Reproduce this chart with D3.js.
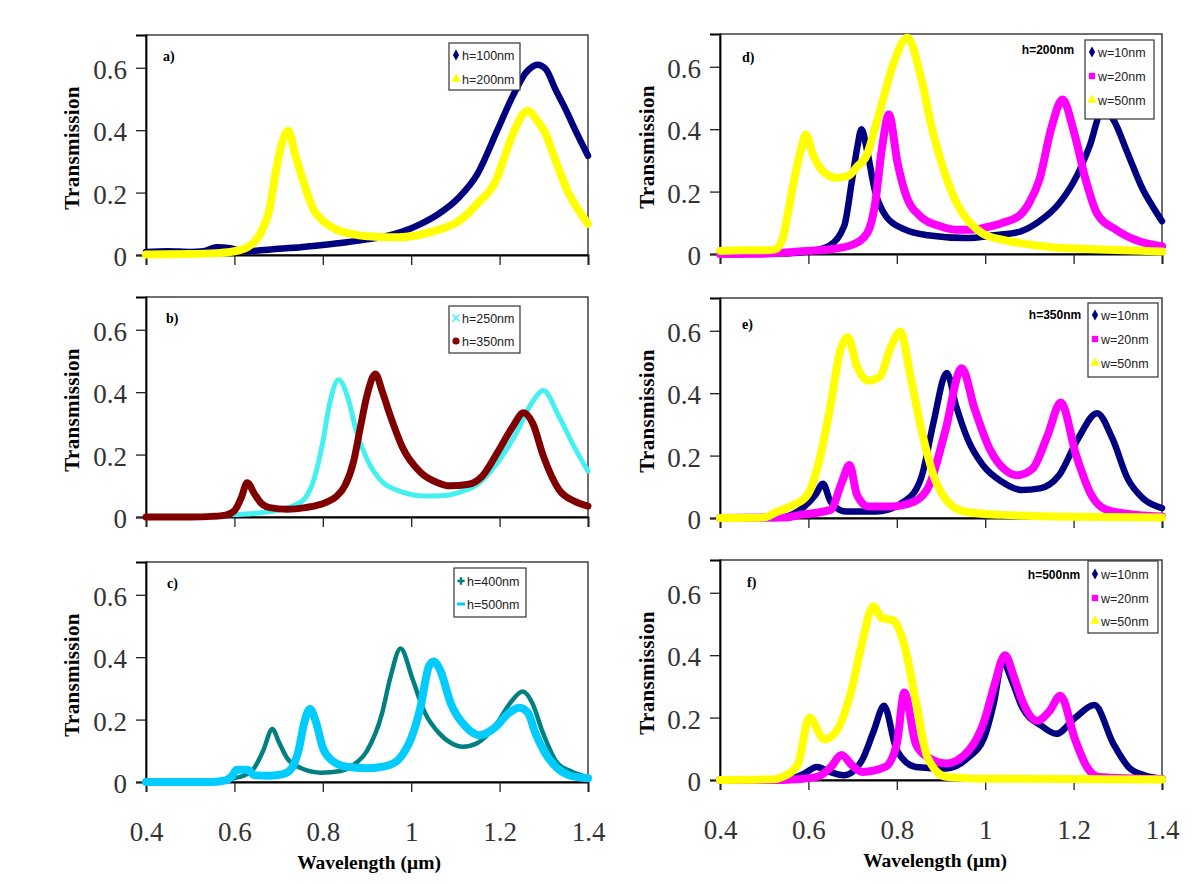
<!DOCTYPE html>
<html><head><meta charset="utf-8">
<script src="https://cdn.jsdelivr.net/npm/d3@7"></script>
<style>body{margin:0;background:#fff}</style>
</head><body>
<svg id="chart" width="1200" height="884"></svg>
<script>
// ---------------- DATA ----------------
const X_TICKS = [0.4, 0.6, 0.8, 1.0, 1.2, 1.4];
const X_TICK_LABELS = ["0.4", "0.6", "0.8", "1", "1.2", "1.4"];
const Y_TICKS = [0, 0.2, 0.4, 0.6];
const Y_TICK_LABELS = ["0", "0.2", "0.4", "0.6"];
const PANEL_LABELS = ["a)", "b)", "c)", "d)", "e)", "f)"];
const PANEL_HEADERS = [null, null, null, "h=200nm", "h=350nm", "h=500nm"];
const SERIES_NAMES = [
  ["h=100nm", "h=200nm"],
  ["h=250nm", "h=350nm"],
  ["h=400nm", "h=500nm"],
  ["w=10nm", "w=20nm", "w=50nm"],
  ["w=10nm", "w=20nm", "w=50nm"],
  ["w=10nm", "w=20nm", "w=50nm"]
];

// [wavelength (µm), transmission]
const aH100 = [[0.40,0.010],[0.45,0.012],[0.50,0.010],[0.53,0.012],[0.56,0.025],[0.59,0.022],[0.62,0.012],[0.66,0.015],[0.70,0.020],[0.75,0.025],[0.80,0.032],[0.85,0.040],[0.90,0.050],[0.936,0.058],[0.98,0.075],[1.022,0.100],[1.06,0.130],[1.109,0.186],[1.15,0.260],[1.195,0.400],[1.23,0.510],[1.26,0.585],[1.286,0.610],[1.305,0.595],[1.325,0.535],[1.35,0.465],[1.368,0.410],[1.40,0.318]];
const aH200 = [[0.40,0.002],[0.50,0.003],[0.56,0.006],[0.60,0.012],[0.63,0.025],[0.659,0.070],[0.68,0.150],[0.694,0.270],[0.708,0.360],[0.722,0.398],[0.738,0.320],[0.755,0.240],[0.78,0.143],[0.80,0.110],[0.83,0.082],[0.87,0.066],[0.927,0.058],[0.97,0.057],[1.02,0.065],[1.06,0.080],[1.109,0.110],[1.15,0.165],[1.195,0.250],[1.21,0.310],[1.23,0.387],[1.264,0.462],[1.285,0.430],[1.30,0.400],[1.325,0.310],[1.35,0.217],[1.385,0.130],[1.40,0.100]];

const bH250 = [[0.55,0.004],[0.60,0.008],[0.65,0.012],[0.70,0.022],[0.74,0.040],[0.76,0.060],[0.78,0.120],[0.80,0.240],[0.815,0.360],[0.836,0.440],[0.858,0.376],[0.875,0.280],[0.90,0.185],[0.935,0.112],[0.97,0.085],[1.00,0.072],[1.03,0.067],[1.07,0.068],[1.11,0.080],[1.15,0.105],[1.195,0.174],[1.238,0.270],[1.273,0.366],[1.299,0.405],[1.334,0.323],[1.368,0.227],[1.40,0.147]];
const bH350 = [[0.40,0.0],[0.50,0.0],[0.55,0.002],[0.58,0.006],[0.60,0.020],[0.615,0.060],[0.629,0.110],[0.645,0.075],[0.66,0.045],[0.68,0.030],[0.72,0.025],[0.76,0.030],[0.806,0.046],[0.83,0.065],[0.85,0.100],[0.87,0.180],[0.884,0.280],[0.90,0.390],[0.919,0.458],[0.935,0.400],[0.953,0.323],[0.979,0.227],[1.022,0.142],[1.06,0.110],[1.087,0.100],[1.13,0.105],[1.16,0.130],[1.195,0.206],[1.23,0.290],[1.254,0.334],[1.275,0.300],[1.299,0.195],[1.334,0.088],[1.37,0.050],[1.40,0.035]];

const cH400 = [[0.40,0.0],[0.50,0.0],[0.55,0.003],[0.58,0.008],[0.62,0.020],[0.645,0.045],[0.665,0.100],[0.686,0.170],[0.70,0.130],[0.72,0.075],[0.75,0.045],[0.797,0.030],[0.84,0.035],[0.87,0.055],[0.90,0.100],[0.934,0.220],[0.952,0.330],[0.976,0.428],[1.003,0.330],[1.029,0.228],[1.064,0.155],[1.09,0.125],[1.116,0.113],[1.15,0.125],[1.193,0.186],[1.225,0.255],[1.252,0.290],[1.275,0.250],[1.296,0.165],[1.331,0.060],[1.36,0.035],[1.40,0.015]];
const cH500 = [[0.40,0.0],[0.55,0.0],[0.58,0.005],[0.595,0.020],[0.605,0.039],[0.63,0.039],[0.645,0.022],[0.68,0.020],[0.71,0.025],[0.73,0.045],[0.745,0.100],[0.758,0.190],[0.771,0.234],[0.785,0.190],[0.80,0.110],[0.82,0.070],[0.85,0.050],[0.90,0.044],[0.94,0.050],[0.97,0.070],[0.986,0.100],[1.00,0.140],[1.021,0.240],[1.04,0.370],[1.051,0.386],[1.065,0.360],[1.09,0.250],[1.124,0.176],[1.154,0.150],[1.19,0.175],[1.22,0.220],[1.245,0.238],[1.265,0.220],[1.28,0.160],[1.30,0.100],[1.33,0.045],[1.36,0.020],[1.40,0.012]];

const dW10 = [[0.40,0.0],[0.55,0.002],[0.60,0.008],[0.646,0.025],[0.681,0.090],[0.698,0.230],[0.711,0.345],[0.72,0.400],[0.733,0.330],[0.75,0.206],[0.776,0.120],[0.819,0.078],[0.87,0.060],[0.958,0.051],[1.02,0.060],[1.079,0.072],[1.123,0.105],[1.166,0.160],[1.209,0.255],[1.236,0.345],[1.266,0.463],[1.29,0.430],[1.322,0.324],[1.357,0.206],[1.38,0.150],[1.40,0.105]];
const dW20 = [[0.40,0.0],[0.50,0.001],[0.55,0.005],[0.60,0.010],[0.65,0.015],[0.70,0.030],[0.733,0.067],[0.75,0.153],[0.767,0.345],[0.782,0.447],[0.802,0.290],[0.819,0.196],[0.854,0.120],[0.90,0.088],[0.932,0.078],[0.97,0.078],[1.00,0.085],[1.04,0.100],[1.079,0.125],[1.10,0.165],[1.123,0.240],[1.149,0.400],[1.175,0.495],[1.201,0.390],[1.227,0.240],[1.253,0.130],[1.296,0.078],[1.35,0.040],[1.40,0.025]];
const dW50 = [[0.40,0.010],[0.45,0.012],[0.50,0.012],[0.525,0.015],[0.542,0.050],[0.551,0.110],[0.568,0.240],[0.585,0.345],[0.594,0.383],[0.61,0.320],[0.63,0.270],[0.663,0.244],[0.69,0.250],[0.71,0.280],[0.733,0.320],[0.75,0.400],[0.767,0.485],[0.793,0.613],[0.824,0.693],[0.854,0.570],[0.88,0.400],[0.906,0.270],[0.93,0.180],[0.949,0.130],[0.993,0.067],[1.04,0.045],[1.079,0.035],[1.15,0.022],[1.25,0.015],[1.40,0.008]];

const eW10 = [[0.40,0.0],[0.529,0.0],[0.581,0.026],[0.616,0.074],[0.633,0.110],[0.65,0.053],[0.684,0.021],[0.753,0.021],[0.822,0.058],[0.857,0.137],[0.883,0.306],[0.913,0.465],[0.934,0.360],[0.96,0.254],[0.995,0.169],[1.038,0.116],[1.081,0.090],[1.124,0.095],[1.167,0.137],[1.21,0.254],[1.253,0.336],[1.288,0.254],[1.322,0.127],[1.357,0.063],[1.40,0.032]];
const eW20 = [[0.40,0.0],[0.55,0.002],[0.581,0.010],[0.65,0.026],[0.676,0.116],[0.693,0.170],[0.71,0.074],[0.736,0.037],[0.787,0.037],[0.84,0.053],[0.874,0.106],[0.909,0.275],[0.947,0.480],[0.976,0.350],[1.01,0.222],[1.046,0.153],[1.072,0.137],[1.107,0.158],[1.141,0.264],[1.171,0.370],[1.206,0.200],[1.24,0.074],[1.275,0.026],[1.344,0.010],[1.40,0.005]];
const eW50 = [[0.40,0.0],[0.50,0.002],[0.529,0.020],[0.564,0.040],[0.598,0.074],[0.624,0.180],[0.65,0.360],[0.671,0.530],[0.689,0.580],[0.71,0.486],[0.736,0.440],[0.762,0.454],[0.787,0.550],[0.808,0.597],[0.831,0.454],[0.857,0.275],[0.883,0.137],[0.909,0.063],[0.952,0.021],[1.038,0.010],[1.20,0.004],[1.40,0.002]];

const fW10 = [[0.40,0.0],[0.55,0.002],[0.59,0.020],[0.619,0.042],[0.65,0.025],[0.68,0.015],[0.72,0.060],[0.748,0.158],[0.771,0.238],[0.80,0.095],[0.843,0.042],[0.912,0.037],[0.96,0.070],[0.998,0.137],[1.02,0.250],[1.039,0.380],[1.06,0.320],[1.084,0.232],[1.127,0.174],[1.161,0.148],[1.204,0.200],[1.247,0.240],[1.29,0.116],[1.324,0.042],[1.36,0.015],[1.40,0.005]];
const fW20 = [[0.40,0.0],[0.542,0.0],[0.62,0.010],[0.65,0.040],[0.675,0.080],[0.70,0.045],[0.722,0.026],[0.774,0.042],[0.80,0.116],[0.817,0.280],[0.843,0.116],[0.869,0.074],[0.912,0.053],[0.963,0.095],[0.998,0.190],[1.02,0.300],[1.045,0.400],[1.065,0.330],[1.084,0.253],[1.118,0.190],[1.145,0.220],[1.17,0.270],[1.204,0.127],[1.23,0.042],[1.256,0.010],[1.40,0.003]];
const fW50 = [[0.40,0.0],[0.52,0.002],[0.542,0.010],[0.576,0.050],[0.602,0.200],[0.636,0.130],[0.66,0.150],[0.697,0.285],[0.72,0.430],[0.747,0.557],[0.765,0.520],[0.791,0.512],[0.817,0.433],[0.843,0.253],[0.869,0.074],[0.912,0.010],[1.00,0.004],[1.40,0.002]];

const PANEL_DATA = [
  [aH100, aH200],
  [bH250, bH350],
  [cH400, cH500],
  [dW10, dW20, dW50],
  [eW10, eW20, eW50],
  [fW10, fW20, fW50]
];

// ---------------- STYLES / LAYOUT ----------------
const STYLE = {
  navy:    {color:"#000080", width:6.5, symbol:"diamond"},
  yellow:  {color:"#ffff00", width:8,   symbol:"triangle"},
  magenta: {color:"#ff00ff", width:8,   symbol:"square"},
  cyan:    {color:"#44f0f0", width:5,   symbol:"x"},
  darkred: {color:"#800000", width:7,   symbol:"circle"},
  teal:    {color:"#008080", width:4.5, symbol:"plus"},
  sky:     {color:"#00ccff", width:8,   symbol:"dash"}
};
const PANEL_STYLES = [
  ["navy","yellow"], ["cyan","darkred"], ["teal","sky"],
  ["navy","magenta","yellow"], ["navy","magenta","yellow"], ["navy","magenta","yellow"]
];
const LAYOUT = [
  {x0:146, x1:588, zero:255, lab:[163,56], leg:{x:449,y:43,w:71,h:47,rows:[55,79]}, xLabels:false},
  {x0:146, x1:588, zero:517, lab:[166,318], leg:{x:449,y:306,w:71,h:47,rows:[318,341]}, xLabels:false},
  {x0:146, x1:588, zero:782, lab:[167,583], leg:{x:454,y:568,w:72,h:49,rows:[581,604]}, xLabels:true},
  {x0:720, x1:1162, zero:254, lab:[742,57], leg:{x:1085,y:40,w:69,h:79,rows:[52,76,100]}, head:[1048,50], xLabels:false},
  {x0:720, x1:1162, zero:518, lab:[742,324], leg:{x:1088,y:303,w:70,h:74,rows:[315,339,363]}, head:[1055,315], xLabels:false},
  {x0:720, x1:1162, zero:780, lab:[747,582], leg:{x:1088,y:561,w:70,h:72,rows:[574,598,621]}, head:[1054,575], xLabels:true}
];
const PANEL_H = 220;
const Y_MAX = 0.705;

// ---------------- DRAW ----------------
const svg = d3.select("#chart");
const serif = "'Liberation Serif','Times New Roman',serif";
const sans = "'Liberation Sans Narrow','Liberation Sans',Arial,sans-serif";

function drawSymbol(g, kind, cx, cy, color) {
  if (kind === "dash") {
    g.append("line").attr("x1",cx-4).attr("x2",cx+4).attr("y1",cy).attr("y2",cy)
      .attr("stroke",color).attr("stroke-width",3);
    return;
  }
  const map = {diamond:d3.symbolDiamond, triangle:d3.symbolTriangle, square:d3.symbolSquare,
               circle:d3.symbolCircle, x:d3.symbolTimes, plus:d3.symbolCross};
  const size = {diamond:34, triangle:38, square:40, circle:40, x:34, plus:30}[kind];
  const path = d3.symbol().type(map[kind]).size(size)();
  const p = g.append("path").attr("d", path).attr("transform", `translate(${cx},${cy})`);
  if (kind === "x") p.attr("fill","none").attr("stroke",color).attr("stroke-width",1.6);
  else p.attr("fill",color);
}

LAYOUT.forEach((L, i) => {
  const top = L.zero - PANEL_H;
  const x = d3.scaleLinear().domain([0.4, 1.4]).range([L.x0, L.x1]);
  const y = d3.scaleLinear().domain([0, Y_MAX]).range([L.zero, top]);
  const g = svg.append("g");

  // frame
  g.append("rect").attr("x", L.x0).attr("y", top).attr("width", L.x1 - L.x0).attr("height", PANEL_H)
    .attr("fill", "none").attr("stroke", "#333").attr("stroke-width", 1.4);

  // axes
  const xAxis = d3.axisBottom(x).tickValues(X_TICKS).tickSizeOuter(0).tickSize(10)
    .tickFormat((d, k) => L.xLabels ? X_TICK_LABELS[k] : "");
  const gx = g.append("g").attr("transform", `translate(0,${L.zero})`).call(xAxis);
  gx.attr("font-family", serif);
  gx.select(".domain").attr("stroke", "#000").attr("stroke-width", 1.8);
  gx.selectAll(".tick line").attr("stroke", "#222").attr("stroke-width", 1.3);
  gx.selectAll(".tick text").attr("font-family", serif).attr("font-size", 27).attr("fill", "#333")
    .attr("y", 0).attr("dy", 0).attr("transform", "translate(0,59)");

  const yAxis = d3.axisLeft(y).tickValues(Y_TICKS).tickSizeOuter(0).tickSize(10)
    .tickFormat((d, k) => Y_TICK_LABELS[k]);
  const gy = g.append("g").attr("transform", `translate(${L.x0},0)`).call(yAxis);
  gy.attr("font-family", serif);
  gy.select(".domain").attr("stroke", "#000").attr("stroke-width", 1.8);
  gy.selectAll(".tick line").attr("stroke", "#222").attr("stroke-width", 1.3);
  gy.selectAll(".tick text").attr("font-family", serif).attr("font-size", 27).attr("fill", "#333")
    .attr("x", -19).attr("dy", "0.40em");

  // curves
  const line = d3.line().x(d => x(d[0])).y(d => y(d[1])).curve(d3.curveMonotoneX);
  PANEL_DATA[i].forEach((data, s) => {
    const st = STYLE[PANEL_STYLES[i][s]];
    g.append("path").datum(data).attr("d", line).attr("fill", "none")
      .attr("stroke", st.color).attr("stroke-width", st.width)
      .attr("stroke-linejoin", "round").attr("stroke-linecap", "round");
  });

  // panel label
  g.append("text").attr("x", L.lab[0]).attr("y", L.lab[1]).attr("dy", "0.35em")
    .attr("font-family", serif).attr("font-weight", "bold").attr("font-size", 14).text(PANEL_LABELS[i]);

  // header
  if (PANEL_HEADERS[i]) {
    g.append("text").attr("x", L.head[0]).attr("y", L.head[1]).attr("dy", "0.35em")
      .attr("text-anchor", "middle").attr("font-family", "'Liberation Sans',Arial,sans-serif")
      .attr("font-weight", "bold").attr("font-size", 12).text(PANEL_HEADERS[i]);
  }

  // legend
  const lg = g.append("g");
  lg.append("rect").attr("x", L.leg.x).attr("y", L.leg.y).attr("width", L.leg.w).attr("height", L.leg.h)
    .attr("fill", "#fff").attr("stroke", "#333").attr("stroke-width", 1.2);
  SERIES_NAMES[i].forEach((name, s) => {
    const st = STYLE[PANEL_STYLES[i][s]];
    const ry = L.leg.rows[s];
    drawSymbol(lg, st.symbol, L.leg.x + 7, ry, st.color);
    lg.append("text").attr("x", L.leg.x + 13).attr("y", ry).attr("dy", "0.36em")
      .attr("font-family", sans).attr("font-size", 12.5).attr("fill", "#222").text(name);
  });

  // y title
  const cy = (top + L.zero) / 2 + 3;
  const tx = i < 3 ? 72 : 647;
  g.append("text").attr("transform", `translate(${tx},${cy}) rotate(-90)`)
    .attr("text-anchor", "middle").attr("dy", "0.35em")
    .attr("font-family", serif).attr("font-weight", "bold").attr("font-size", 21)
    .attr("letter-spacing", 0.3).text("Transmission");

  // x title
  if (L.xLabels) {
    g.append("text").attr("x", (L.x0 + L.x1) / 2 + (i < 3 ? 2 : -6)).attr("y", L.zero + 80)
      .attr("text-anchor", "middle").attr("dy", "0.35em")
      .attr("font-family", serif).attr("font-weight", "bold").attr("font-size", 19.5)
      .text("Wavelength (μm)");
  }
});
</script>
</body></html>
